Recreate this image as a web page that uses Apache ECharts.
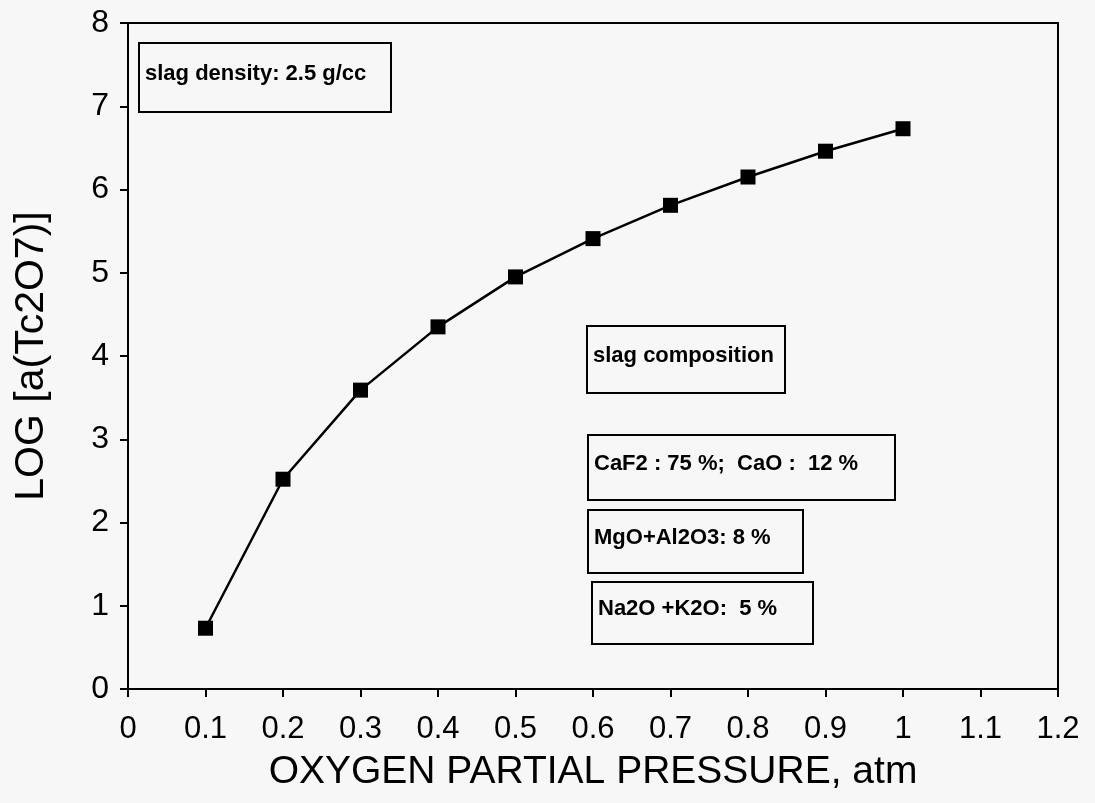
<!DOCTYPE html>
<html>
<head>
<meta charset="utf-8">
<script src="https://cdn.jsdelivr.net/npm/echarts@6/dist/echarts.min.js"></script>
<style>
  html, body { margin: 0; padding: 0; background: #f7f7f7; }
  .chart { width: 1095px; height: 803px; }
</style>
</head>
<body>
<div class="chart"></div>
<script>
const pressure = [0.1, 0.2, 0.3, 0.4, 0.5, 0.6, 0.7, 0.8, 0.9, 1.0];
const logActivity = [0.73, 2.52, 3.59, 4.35, 4.95, 5.41, 5.81, 6.15, 6.46, 6.73];
const xTickLabels = ['0', '0.1', '0.2', '0.3', '0.4', '0.5', '0.6', '0.7', '0.8', '0.9', '1', '1.1', '1.2'];
const yTickLabels = ['0', '1', '2', '3', '4', '5', '6', '7', '8'];
const notes = [
  'slag density: 2.5 g/cc',
  'slag composition',
  'CaF2 : 75 %;  CaO :  12 %',
  'MgO+Al2O3: 8 %',
  'Na2O +K2O:  5 %',
];

const font = '"Liberation Sans", Arial, sans-serif';

// note boxes: [left, top, width, height]
const boxes = [
  [138, 42, 252, 69],
  [586, 325, 198, 67],
  [587, 434, 307, 65],
  [587, 509, 215, 63],
  [591, 581, 221, 62],
];

const graphics = [];
boxes.forEach(([x, y, w, h], i) => {
  graphics.push({
    type: 'rect',
    left: x, top: y,
    shape: { width: w, height: h },
    style: { fill: 'transparent', stroke: '#000', lineWidth: 2 },
  });
  graphics.push({
    type: 'text',
    x: x + 7, y: y + h / 2 - 3,
    style: {
      text: notes[i],
      fill: '#000',
      font: 'bold 22px ' + font,
      verticalAlign: 'middle',
    },
  });
});

const chart = echarts.init(document.querySelector('.chart'));
chart.setOption({
  backgroundColor: '#f7f7f7',
  animation: false,
  grid: {
    left: 128, right: 37, top: 23, bottom: 114,
    show: true, borderColor: '#000', borderWidth: 2,
  },
  xAxis: {
    type: 'value',
    min: 0, max: 1.2, interval: 0.1,
    name: 'OXYGEN PARTIAL PRESSURE, atm',
    nameLocation: 'middle',
    nameGap: 64,
    nameTextStyle: { fontFamily: font, fontSize: 39, color: '#000' },
    axisLine: { lineStyle: { color: '#000', width: 2 } },
    axisTick: { length: 8, lineStyle: { color: '#000', width: 2 } },
    axisLabel: {
      margin: 25, fontFamily: font, fontSize: 31, color: '#000',
      formatter: (v) => xTickLabels[Math.round(v * 10)],
    },
    splitLine: { show: false },
  },
  yAxis: {
    type: 'value',
    min: 0, max: 8, interval: 1,
    name: 'LOG [a(Tc2O7)]',
    nameLocation: 'middle',
    nameGap: 76,
    nameTextStyle: { fontFamily: font, fontSize: 41, color: '#000' },
    axisLine: { show: true, lineStyle: { color: '#000', width: 2 } },
    axisTick: { show: true, length: 8, lineStyle: { color: '#000', width: 2 } },
    axisLabel: {
      margin: 19, fontFamily: font, fontSize: 32, color: '#000',
      formatter: (v) => yTickLabels[Math.round(v)],
    },
    splitLine: { show: false },
  },
  series: [
    {
      type: 'line',
      data: pressure.map((p, i) => [p, logActivity[i]]),
      symbol: 'rect',
      symbolSize: 15,
      itemStyle: { color: '#000' },
      lineStyle: { color: '#000', width: 2.5 },
    },
  ],
  graphic: graphics,
});
</script>
</body>
</html>
